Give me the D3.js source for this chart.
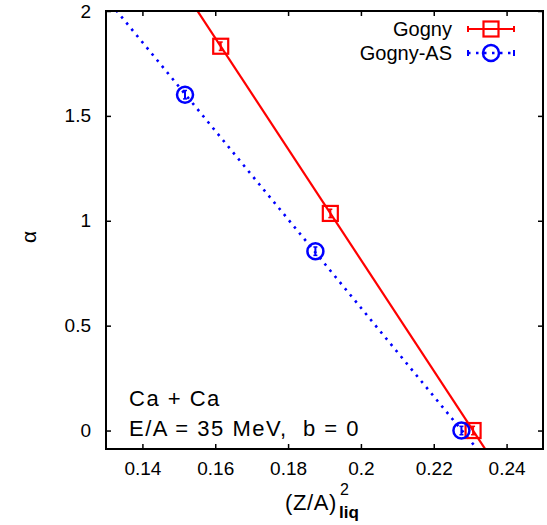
<!DOCTYPE html>
<html>
<head>
<meta charset="utf-8">
<script src="https://cdn.jsdelivr.net/npm/d3@7"></script>
<style>
  body { margin: 0; background: #fff; }
  text { font-family: "Liberation Sans", Arial, sans-serif; fill: #000; }
</style>
</head>
<body>
<svg id="chart" width="547" height="525"></svg>
<script>
// data
const goX = [0.1615, 0.1916, 0.2308];
const goY = [1.832, 1.035, 0.0];
const goErr = [0.02, 0.02, 0.02];
const asX = [0.1517, 0.1875, 0.2276];
const asY = [1.601, 0.855, 0.0];
const asErr = [0.02, 0.02, 0.02];
const xTicks = [0.14, 0.16, 0.18, 0.2, 0.22, 0.24];
const yTicks = [0, 0.5, 1, 1.5, 2];
const seriesNames = ['Gogny', 'Gogny-AS'];

const svg = d3.select('#chart');
const margin = { top: 11, right: 4, bottom: 76, left: 106 };
const width = 547 - margin.left - margin.right;
const height = 525 - margin.top - margin.bottom;

const x = d3.scaleLinear().domain([0.13, 0.25]).range([0, width]);
const y = d3.scaleLinear().domain([-0.088, 2]).range([height, 0]);

const g = svg.append('g').attr('transform', `translate(${margin.left},${margin.top})`);

svg.append('defs').append('clipPath').attr('id', 'plot-area')
  .append('rect').attr('width', width).attr('height', height);

// linear least-squares fit through the points
const fit = (xs, ys) => {
  const mx = d3.mean(xs), my = d3.mean(ys);
  const b = d3.sum(xs, (v, i) => (v - mx) * (ys[i] - my)) / d3.sum(xs, v => (v - mx) ** 2);
  return v => my + b * (v - mx);
};

const series = [
  { name: seriesNames[0], xs: goX, ys: goY, err: goErr, color: '#ff0000', dash: null, shape: 'square' },
  { name: seriesNames[1], xs: asX, ys: asY, err: asErr, color: '#0000ff', dash: '2.5,5.5', shape: 'circle' }
];

const plot = g.append('g').attr('clip-path', 'url(#plot-area)');

series.forEach(s => {
  const f = fit(s.xs, s.ys);
  const dom = x.domain();
  plot.append('path')
    .datum(dom.map(v => [v, f(v)]))
    .attr('fill', 'none')
    .attr('stroke', s.color)
    .attr('stroke-width', s.dash ? 2.6 : 2.2)
    .attr('stroke-dasharray', s.dash)
    .attr('d', d3.line().x(d => x(d[0])).y(d => y(d[1])));
});

const drawMarker = (sel, shape, color, cx, cy) => {
  if (shape === 'square') {
    sel.append('rect').attr('x', cx - 7.5).attr('y', cy - 7.5)
      .attr('width', 15).attr('height', 15)
      .attr('fill', 'none').attr('stroke', color).attr('stroke-width', 2.2);
  } else {
    sel.append('circle').attr('cx', cx).attr('cy', cy).attr('r', 8)
      .attr('fill', 'none').attr('stroke', color).attr('stroke-width', 2.5);
  }
};

series.forEach(s => {
  const pts = plot.append('g');
  s.xs.forEach((v, i) => {
    const cx = x(v), cy = y(s.ys[i]);
    const y0 = y(s.ys[i] - s.err[i]), y1 = y(s.ys[i] + s.err[i]);
    pts.append('line').attr('x1', cx).attr('x2', cx).attr('y1', y0).attr('y2', y1)
      .attr('stroke', s.color).attr('stroke-width', 2);
    [y0, y1].forEach(yy => pts.append('line')
      .attr('x1', cx - 2).attr('x2', cx + 2).attr('y1', yy).attr('y2', yy)
      .attr('stroke', s.color).attr('stroke-width', 1.5));
    drawMarker(pts, s.shape, s.color, cx, cy);
  });
});

// axes: ticks inward, mirrored on top and right
const tickLen = 5;
g.append('g').attr('transform', `translate(0,${height})`)
  .call(d3.axisBottom(x).tickValues(xTicks).tickSizeInner(-tickLen).tickSizeOuter(0)
    .tickPadding(13).tickFormat(d3.format('')))
  .call(a => a.select('.domain').remove());
g.append('g')
  .call(d3.axisTop(x).tickValues(xTicks).tickSizeInner(-tickLen).tickSizeOuter(0).tickFormat(''))
  .call(a => a.select('.domain').remove());
g.append('g')
  .call(d3.axisLeft(y).tickValues(yTicks).tickSizeInner(-tickLen).tickSizeOuter(0)
    .tickPadding(15).tickFormat(d3.format('')))
  .call(a => a.select('.domain').remove());
g.append('g').attr('transform', `translate(${width},0)`)
  .call(d3.axisRight(y).tickValues(yTicks).tickSizeInner(-tickLen).tickSizeOuter(0).tickFormat(''))
  .call(a => a.select('.domain').remove());

g.selectAll('.tick line').attr('stroke', '#000').attr('stroke-width', 1.5);
g.selectAll('.tick text').style('font-family', '"Liberation Sans", Arial, sans-serif')
  .style('font-size', '19px').attr('fill', '#000');

g.append('rect').attr('width', width).attr('height', height)
  .attr('fill', 'none').attr('stroke', '#000').attr('stroke-width', 2);

// axis labels
svg.append('text').attr('x', 285).attr('y', 510).style('font-size', '22px')
  .style('letter-spacing', '0.6px').text('(Z/A)');
svg.append('text').attr('x', 340).attr('y', 495).style('font-size', '16px').text('2');
svg.append('text').attr('x', 339).attr('y', 518).style('font-size', '17px')
  .style('font-weight', 'bold').text('liq');

svg.append('text').attr('transform', 'translate(36,237) rotate(-90)')
  .attr('text-anchor', 'middle').style('font-size', '21px').text('α');

// annotation
svg.append('text').attr('x', 129).attr('y', 406).style('font-size', '22px')
  .style('letter-spacing', '1.5px').text('Ca + Ca');
svg.append('text').attr('x', 129).attr('y', 436).style('font-size', '22px')
  .style('letter-spacing', '1.5px').attr('xml:space', 'preserve').text('E/A = 35 MeV,  b = 0');

// legend
const legend = svg.append('g');
series.forEach((s, i) => {
  const ly = 29 + i * 24;
  legend.append('text').attr('x', 452).attr('y', ly + 7).attr('text-anchor', 'end')
    .style('font-size', '20px').text(s.name);
  legend.append('line').attr('x1', 468).attr('x2', 514).attr('y1', ly).attr('y2', ly)
    .attr('stroke', s.color).attr('stroke-width', s.dash ? 2.6 : 2.2)
    .attr('stroke-dasharray', s.dash);
  [468, 514].forEach(xx => legend.append('line')
    .attr('x1', xx).attr('x2', xx).attr('y1', ly - 3).attr('y2', ly + 3)
    .attr('stroke', s.color).attr('stroke-width', 2));
  drawMarker(legend, s.shape, s.color, 491, ly);
});
</script>
</body>
</html>
